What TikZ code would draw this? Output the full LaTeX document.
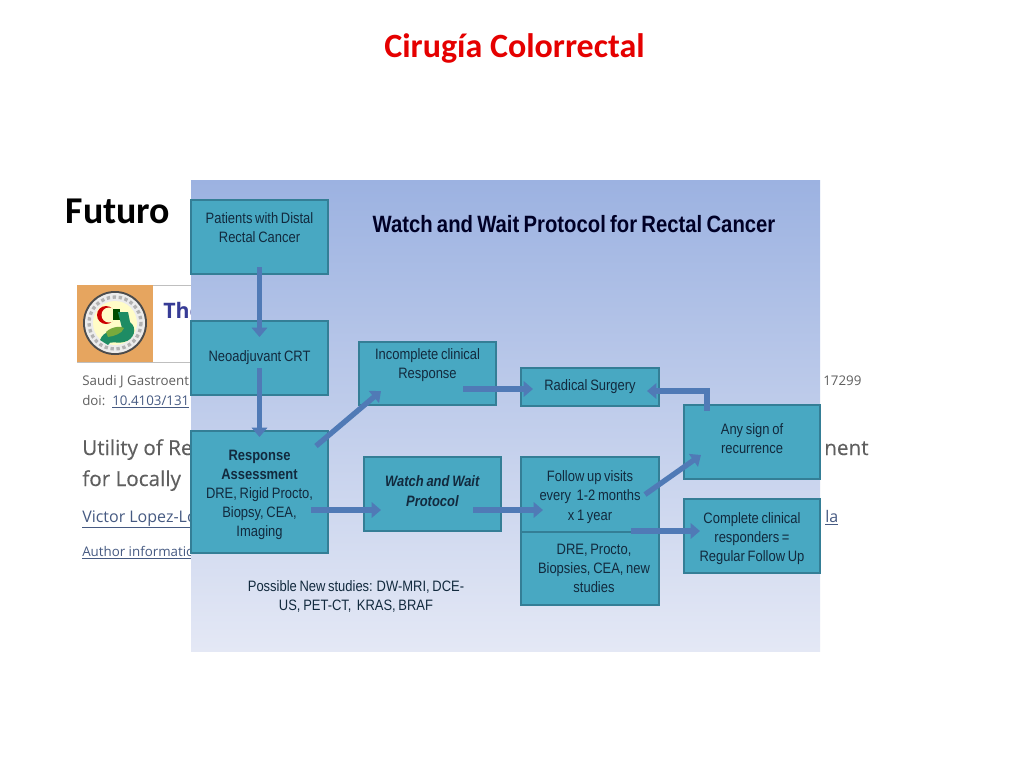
\documentclass[tikz,border=0pt]{standalone}
\usepackage{fontspec}
\usetikzlibrary{arrows.meta,calc}
\setmainfont{Liberation Sans}
\newfontfamily\titlefont{Carlito}[BoldFont={Carlito Bold}]
\newfontfamily\pagefont{Open Sans}
\newfontfamily\headfont{Open Sans}[FakeBold=0.25]
\newfontfamily\panelfont{Liberation Sans}[FakeStretch=0.86,WordSpace=0.75]
\definecolor{boxfill}{RGB}{72,168,194}
\definecolor{boxedge}{RGB}{52,126,150}
\definecolor{arrowfill}{RGB}{80,122,182}
\definecolor{linkblue}{RGB}{70,90,130}
\definecolor{pagegray}{RGB}{95,95,95}
\definecolor{inktext}{RGB}{18,42,62}
\definecolor{logoorange}{RGB}{230,165,95}
\definecolor{logogreen}{RGB}{30,140,100}
\definecolor{logolime}{RGB}{120,170,60}
\tikzset{
  x=0.75pt,y=-0.75pt,
  flowbox/.style={rectangle,draw=boxedge,fill=boxfill,line width=1pt,inner sep=0pt,outer sep=0pt,
    font=\panelfont\fontsize{11.3pt}{14.3pt}\selectfont,text=inktext,align=flush center},
  blockarrow/.style={draw=arrowfill,line width=4pt,-{Triangle[length=7pt,width=11.5pt,fill=arrowfill]}},
  pagetext/.style={anchor=base west,inner sep=0pt,font=\pagefont,text=pagegray},
  pagelink/.style={anchor=base west,inner sep=0pt,text=linkblue},
}
\begin{document}
\begin{tikzpicture}
\useasboundingbox (0,0) rectangle (1024,768);
\fill[white] (0,0) rectangle (1024,768);
% journal page behind the panel
\draw[gray!50,line width=0.6pt] (77,285) rectangle (200,362);
\fill[logoorange] (77,285) rectangle (153,362);
\fill[gray!60!black] (115,323) circle[radius=32];
\fill[gray!15] (115,323) circle[radius=30];
\draw[gray!60,line width=2.5pt,dotted] (115,323) circle[radius=26];
\fill[yellow!22!white] (115,323) circle[radius=22];
\fill[red!80!black] (106,315) circle[radius=9];
\fill[yellow!22!white] (109,315) circle[radius=7.5];
\fill[green!30!black] (113,309) rectangle (120,320);
\fill[logogreen] (118,312) -- (128,312) -- (130,322) .. controls (138,328) and (134,340) .. (124,342) .. controls (116,344) and (110,340) .. (108,345) -- (100,340) .. controls (104,330) and (112,332) .. (122,328) -- cycle;
\fill[logolime] (106,332) .. controls (112,326) and (122,326) .. (124,328) .. controls (122,334) and (114,336) .. (108,337) -- cycle;
\node[anchor=base west,inner sep=0pt,font=\pagefont\bfseries\fontsize{16pt}{16pt}\selectfont,text={rgb,255:red,55;green,60;blue,150}] (journal) at (163,318) {The};
\node[pagetext,font=\pagefont\fontsize{10pt}{10pt}\selectfont] (cite) at (82,385) {Saudi J Gastroent};
\node[pagetext,font=\pagefont\fontsize{10pt}{10pt}\selectfont] (doi) at (82,405) {doi:};
\node[pagelink,font=\pagefont\fontsize{10pt}{10pt}\selectfont] (doilink) at (112,405) {\underline{10.4103/131}};
\node[pagetext,font=\headfont\fontsize{15.5pt}{15.5pt}\selectfont] (head1) at (82,455) {Utility of Re};
\node[pagetext,font=\headfont\fontsize{15.5pt}{15.5pt}\selectfont] (head2) at (82,486) {for Locally};
\node[pagelink,font=\pagefont\fontsize{12pt}{12pt}\selectfont] (author) at (82,522) {\underline{Victor Lopez-Lo}};
\node[pagelink,font=\pagefont\fontsize{10pt}{10pt}\selectfont] (info) at (82,556) {\underline{Author informatio}};
% panel
\node[rectangle,inner sep=0pt,outer sep=0pt,minimum width=629*0.75pt,minimum height=471*0.75pt,
  top color={rgb,255:red,156;green,178;blue,225},bottom color={rgb,255:red,228;green,232;blue,245},
  anchor=north west] (panel) at (191,180) {};
\node[pagetext,font=\pagefont\fontsize{10pt}{10pt}\selectfont] (r1) at (823,385) {17299};
\node[pagetext,font=\headfont\fontsize{15.5pt}{15.5pt}\selectfont] (r2) at (824,455) {nent};
\node[pagelink,font=\pagefont\fontsize{12pt}{12pt}\selectfont] (r3) at (825,522) {\underline{la}};
% titles
\node[anchor=base,font=\titlefont\bfseries\fontsize{25.5pt}{25.5pt}\selectfont,text=red!90!black,inner sep=0pt] (title) at (514.5,57) {Cirugía Colorrectal};
\node[anchor=base,font=\titlefont\bfseries\fontsize{28.4pt}{28.4pt}\selectfont,text=black,inner sep=0pt] (futuro) at (118,223) {Futuro};
\node[font=\panelfont\bfseries\fontsize{17.7pt}{17.7pt}\selectfont,text=black!85!blue,inner sep=0pt] (ptitle) at (574,224) {Watch and Wait Protocol for Rectal Cancer};
% boxes
\newcommand{\flowbox}[6]{\node[flowbox,anchor=north west,minimum width=#4*0.75pt,minimum height=#5*0.75pt,text width=#4*0.75pt-4pt] (#1) at (#2,#3) {#6};}
\flowbox{pat}{191}{200}{137}{74}{Patients with Distal\\Rectal Cancer\\\mbox{}}
\flowbox{neo}{191}{321}{137}{74}{Neoadjuvant CRT}
\flowbox{resp}{191}{431}{137}{122}{\mbox{}\\[-2.3pt]\textbf{Response}\\\textbf{Assessment}\\DRE, Rigid Procto,\\Biopsy, CEA,\\Imaging}
\flowbox{inc}{359}{342}{137}{63}{Incomplete clinical\\Response\\\mbox{}}
\flowbox{wat}{364}{457}{137}{74}{\textbf{\itshape Watch and Wait}\\\textbf{\itshape Protocol}\\[-9.8pt]\mbox{}}
\flowbox{rad}{521}{368}{138}{38}{Radical Surgery}
\flowbox{fol}{521}{457}{138}{75}{\mbox{}\\[-2.3pt]Follow up visits\\every\ \ 1-2 months\\x 1 year}
\flowbox{dre}{521}{532}{138}{73}{\hspace*{6pt}DRE, Procto,\\\hspace*{6pt}Biopsies, CEA, new\\\hspace*{6pt}studies}
\flowbox{any}{684}{405}{136}{74}{Any sign of\\recurrence\\[-9.3pt]\mbox{}}
\flowbox{com}{684}{499}{136}{74}{\mbox{}\\[-2.3pt]Complete clinical\\responders =\\Regular Follow Up}
\node[font=\panelfont\fontsize{11.3pt}{14.3pt}\selectfont,text=inktext,align=flush center,inner sep=0pt] (newst) at (356,596.5) {Possible New studies: DW-MRI, DCE-\\US, PET-CT,\ \ KRAS, BRAF};
% connectors
\draw[blockarrow] ([yshift=5pt]pat.south) -- ([yshift=-12pt]neo.north);
\draw[blockarrow] ([yshift=20pt]neo.south) -- ([yshift=-4.5pt]resp.north);
\draw[blockarrow] ($(resp.north east)+(-12,15)$) -- ($(inc.south west)+(22,-14)$);
\draw[blockarrow] ($(inc.south east)+(-33,-16)$) -- ($(rad.west)+(12,2)$);
\draw[blockarrow] ($(resp.east)+(-17,18)$) -- ($(wat.west)+(17,16)$);
\draw[blockarrow] ($(wat.east)+(-28,16)$) -- ($(fol.west)+(22,15.5)$);
\draw[blockarrow] ($(fol.east)+(-14,0)$) -- ($(any.west)+(17,13)$);
\draw[blockarrow] ($(fol.south east)+(-28,-1)$) -- ($(com.west)+(16,-5)$);
\draw[blockarrow] ($(any.north west)+(23,6)$) |- ($(rad.east)+(-12,4)$);
\end{tikzpicture}
\end{document}
